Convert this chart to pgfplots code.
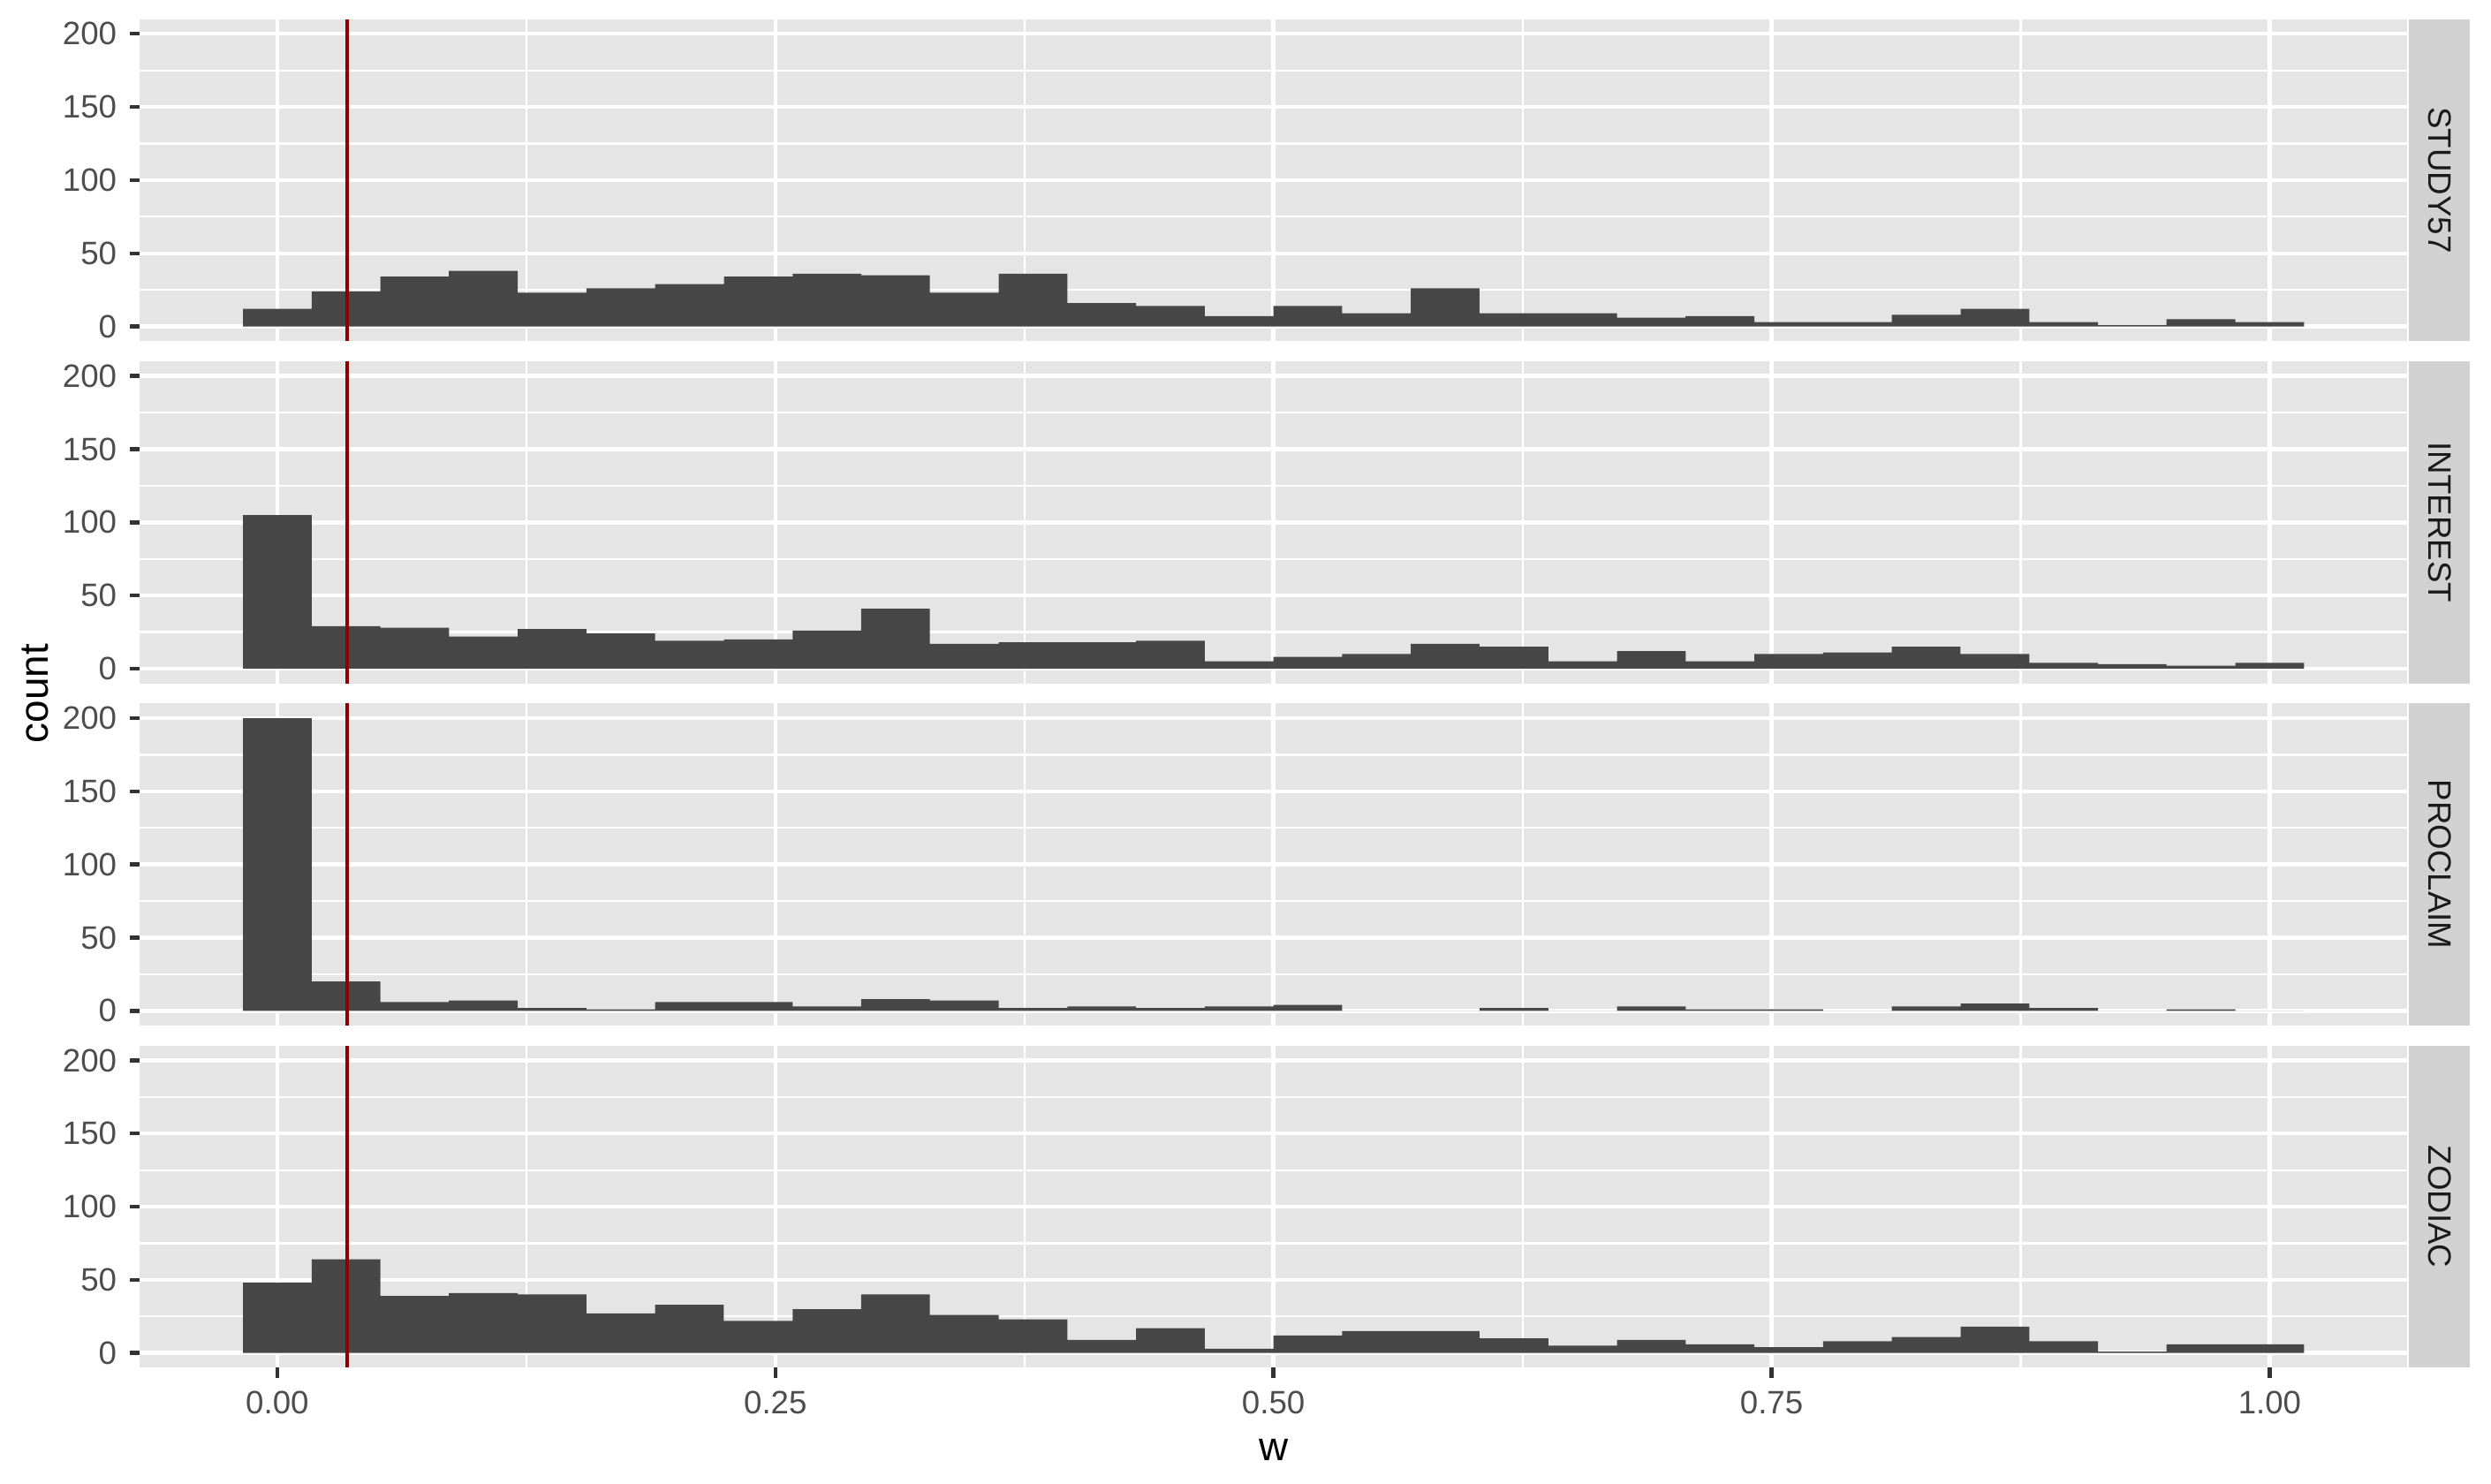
\documentclass[border=0pt]{standalone}
\usepackage{fontspec}
\setmainfont{Liberation Sans}
\usepackage{pgfplots}
\pgfplotsset{compat=1.18}
\usepackage{pgfplotstable}
\usepgfplotslibrary{groupplots}
\usetikzlibrary{calc}

\definecolor{panelbg}{HTML}{E5E5E5}
\definecolor{stripbg}{HTML}{D1D1D1}
\definecolor{barfill}{HTML}{474747}
\definecolor{tickgrey}{HTML}{333333}
\definecolor{labgrey}{HTML}{4D4D4D}
\definecolor{striptext}{HTML}{1A1A1A}
\definecolor{vline}{HTML}{8B0000}

% bin centres (width 1/29) and counts per facet
\pgfplotstableread{
w      study interest proclaim zodiac
0.0000 12    105      200      48
0.0345 24    29       20       64
0.0690 34    28       6        39
0.1034 38    22       7        41
0.1379 23    27       2        40
0.1724 26    24       1        27
0.2069 29    19       6        33
0.2414 34    20       6        22
0.2759 36    26       3        30
0.3103 35    41       8        40
0.3448 23    17       7        26
0.3793 36    18       2        23
0.4138 16    18       3        9
0.4483 14    19       2        17
0.4828 7     5        3        3
0.5172 14    8        4        12
0.5517 9     10       0        15
0.5862 26    17       0        15
0.6207 9     15       2        10
0.6552 9     5        0        5
0.6897 6     12       3        9
0.7241 7     5        1        6
0.7586 3     10       1        4
0.7931 3     11       0        8
0.8276 8     15       3        11
0.8621 12    10       5        18
0.8966 3     4        2        8
0.9310 1     3        0        1
0.9655 5     2        1        6
1.0000 3     4        0        6
}\hist

\tikzset{strip/.style={fill=stripbg, rotate=-90, anchor=south, minimum width=87.5pt,
  minimum height=16.6pt, inner sep=0pt, text=striptext, font=\fontsize{8.8}{10}\selectfont,
  yshift=0.3pt}}

\begin{document}
\begin{tikzpicture}
\begin{groupplot}[
  group style={group size=1 by 4, vertical sep=5.5pt},
  scale only axis, width=616.2pt, height=87.5pt,
  xmin=-0.069, xmax=1.069, ymin=-10, ymax=210,
  clip=false,
  axis background/.style={fill=panelbg},
  axis line style={draw=none},
  grid=both,
  major grid style={white, line width=1.07pt},
  minor grid style={white, line width=0.53pt},
  xtick={0,0.25,0.5,0.75,1},
  minor xtick={0.125,0.375,0.625,0.875},
  ytick={0,50,100,150,200},
  minor ytick={25,75,125,175},
  yticklabels={0,50,100,150,200},
  tick align=outside, tick pos=left,
  major tick length=2.75pt, minor tick length=0pt,
  tick style={tickgrey, line width=1.07pt},
  tick label style={font=\fontsize{8.8}{10}\selectfont, text=labgrey},
]
\nextgroupplot[xticklabels={}, xtick style={draw opacity=0}]
\addplot[ybar, bar width=0.034483, bar shift=0pt, fill=barfill, draw=none] table[x=w, y=study] {\hist};
\addplot[vline, line width=1.07pt] coordinates {(0.035,-10) (0.035,210)};
\node[strip] at (rel axis cs:1,0.5) {STUDY57};

\nextgroupplot[xticklabels={}, xtick style={draw opacity=0}]
\addplot[ybar, bar width=0.034483, bar shift=0pt, fill=barfill, draw=none] table[x=w, y=interest] {\hist};
\addplot[vline, line width=1.07pt] coordinates {(0.035,-10) (0.035,210)};
\node[strip] at (rel axis cs:1,0.5) {INTEREST};

\nextgroupplot[xticklabels={}, xtick style={draw opacity=0}]
\addplot[ybar, bar width=0.034483, bar shift=0pt, fill=barfill, draw=none] table[x=w, y=proclaim] {\hist};
\addplot[vline, line width=1.07pt] coordinates {(0.035,-10) (0.035,210)};
\node[strip] at (rel axis cs:1,0.5) {PROCLAIM};

\nextgroupplot[xticklabels={0.00,0.25,0.50,0.75,1.00},
  xlabel={w}, xlabel style={font=\fontsize{11}{13}\selectfont, text=black}]
\addplot[ybar, bar width=0.034483, bar shift=0pt, fill=barfill, draw=none] table[x=w, y=zodiac] {\hist};
\addplot[vline, line width=1.07pt] coordinates {(0.035,-10) (0.035,210)};
\node[strip] at (rel axis cs:1,0.5) {ZODIAC};
\end{groupplot}
\node[rotate=90, font=\fontsize{11}{13}\selectfont] at ($(group c1r1.north west)!0.5!(group c1r4.south west)+(-28.5pt,0)$) {count};
\path ($(group c1r1.north west)+(-38pt,5.2pt)$) rectangle ($(group c1r4.south west)+(639pt,-31.5pt)$);
\end{tikzpicture}
\end{document}
